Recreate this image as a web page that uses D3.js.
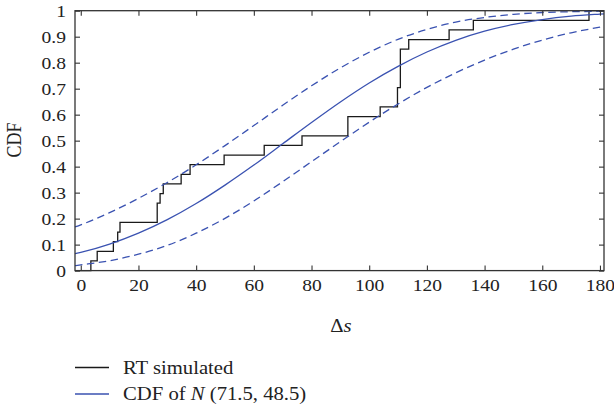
<!DOCTYPE html>
<html>
<head>
<meta charset="utf-8">
<script src="https://cdn.jsdelivr.net/npm/d3@7"></script>
<style>
  body { margin: 0; background: #fff; }
  text { font-family: "Liberation Serif", "DejaVu Serif", serif; fill: #222; }
</style>
</head>
<body>
<svg id="chart" width="614" height="409"></svg>
<script>
// simulated samples (27 values), read off the steps
const samples = [3.5, 5.7, 11.3, 12.8, 13.6, 26.5, 26.5, 27.5, 28.6, 34.8, 37.9, 49.7, 63.6, 76.7,
  92.6, 92.6, 103.8, 109.8, 109.8, 110.8, 110.8, 110.8, 110.8, 113.7, 127.7, 136.1, 176.2]

// curves, read at these x positions
const curveX = [-2, 0, 10, 20, 30, 40, 50, 60, 70, 80, 90, 100, 110, 120, 130, 140, 150, 160, 170, 180, 181.4]
const cdfMid = [0.065, 0.070, 0.102, 0.144, 0.196, 0.258, 0.329, 0.406, 0.488, 0.570, 0.649, 0.722, 0.786,
  0.841, 0.886, 0.921, 0.947, 0.966, 0.979, 0.987, 0.988]
const cdfUpper = [0.168, 0.176, 0.223, 0.278, 0.339, 0.407, 0.481, 0.558, 0.636, 0.711, 0.780, 0.840, 0.890,
  0.928, 0.956, 0.974, 0.986, 0.993, 0.996, 0.998, 0.999]
const cdfLower = [0.019, 0.022, 0.038, 0.063, 0.097, 0.144, 0.201, 0.268, 0.342, 0.419, 0.496, 0.571, 0.641,
  0.705, 0.761, 0.810, 0.852, 0.887, 0.915, 0.937, 0.940]

const xTicks = [0, 20, 40, 60, 80, 100, 120, 140, 160, 180]
const yTicks = [0, 0.1, 0.2, 0.3, 0.4, 0.5, 0.6, 0.7, 0.8, 0.9, 1]
const legendLabels = ["RT simulated", "CDF of"]

const blue = "#3a52b1"
const stretch = 1.15 // the original's type is a bit wider than Liberation Serif
const frame = {left: 75, right: 604, top: 10.7, bottom: 270.6}

const x = d3.scaleLinear().domain([-2, 181.4]).range([frame.left, frame.right])
const y = d3.scaleLinear().domain([0, 1]).range([frame.bottom, frame.top])

const svg = d3.select("#chart")

// empirical CDF points
const sorted = samples.slice().sort((a, b) => a - b)
const ecdf = [[-2, 0]]
sorted.forEach((v, i) => ecdf.push([v, (i + 1) / sorted.length]))
ecdf.push([181.4, 1])

const plot = svg.append("g")

plot.append("path")
    .datum(ecdf)
    .attr("fill", "none")
    .attr("stroke", "#1a1a1a")
    .attr("stroke-width", 1.3)
    .attr("d", d3.line().x(d => x(d[0])).y(d => y(d[1])).curve(d3.curveStepAfter))

const smooth = d3.line().x((d, i) => x(curveX[i])).y(d => y(d)).curve(d3.curveMonotoneX)

plot.append("path")
    .datum(cdfMid)
    .attr("fill", "none")
    .attr("stroke", blue)
    .attr("stroke-width", 1.3)
    .attr("d", smooth)

plot.selectAll(".band")
    .data([cdfUpper, cdfLower])
    .join("path")
    .attr("class", "band")
    .attr("fill", "none")
    .attr("stroke", blue)
    .attr("stroke-width", 1.3)
    .attr("stroke-dasharray", "7.5,4.5")
    .attr("d", smooth)

// frame with inward ticks on all sides
const axes = svg.append("g")
const xAxis = axes.append("g").attr("transform", `translate(0,${frame.bottom})`)
    .call(d3.axisBottom(x).tickValues(xTicks).tickSize(-5).tickPadding(8).tickFormat(d3.format("d")))
axes.append("g").attr("transform", `translate(0,${frame.top})`)
    .call(d3.axisTop(x).tickValues(xTicks).tickSize(-5).tickFormat(""))
const yAxis = axes.append("g").attr("transform", `translate(${frame.left},0)`)
    .call(d3.axisLeft(y).tickValues(yTicks).tickSize(-5).tickPadding(9).tickFormat(d => d))
axes.append("g").attr("transform", `translate(${frame.right},0)`)
    .call(d3.axisRight(y).tickValues(yTicks).tickSize(-5).tickFormat(""))

axes.selectAll(".domain").remove()
axes.selectAll(".tick line").attr("stroke", "#333").attr("stroke-width", 1.1)
axes.selectAll(".tick text").attr("font-size", 17).attr("fill", "#222")
    .style("font-family", '"Liberation Serif", "DejaVu Serif", serif')
    .attr("transform", `scale(${stretch},1)`)
yAxis.selectAll(".tick text").attr("x", -9 / stretch)

axes.append("rect")
    .attr("x", frame.left).attr("y", frame.top)
    .attr("width", frame.right - frame.left).attr("height", frame.bottom - frame.top)
    .attr("fill", "none").attr("stroke", "#333").attr("stroke-width", 1.3)

// axis titles
const xt = svg.append("g").attr("transform", `translate(341,332) scale(${stretch},1)`)
    .append("text").attr("text-anchor", "middle").attr("font-size", 18)
xt.append("tspan").text("Δ")
xt.append("tspan").attr("font-style", "italic").text("s")

svg.append("g").attr("transform", `translate(21,140) rotate(-90) scale(1,${stretch})`)
    .append("text").attr("text-anchor", "middle").attr("font-size", 18)
    .text("CDF")

// legend
const legend = svg.append("g")
const rows = [{color: "#1a1a1a", y: 367.5}, {color: blue, y: 394}]
legend.selectAll("line")
    .data(rows)
    .join("line")
    .attr("x1", 75).attr("x2", 109)
    .attr("y1", d => d.y).attr("y2", d => d.y)
    .attr("stroke", d => d.color).attr("stroke-width", 1.3)

legend.append("g").attr("transform", `translate(123,373.5) scale(${stretch},1)`)
    .append("text").attr("font-size", 18).text(legendLabels[0])
const lt = legend.append("g").attr("transform", `translate(123,400) scale(${stretch},1)`)
    .append("text").attr("font-size", 18)
lt.append("tspan").text(legendLabels[1] + " ")
lt.append("tspan").attr("font-style", "italic").text("N")
lt.append("tspan").text(" (71.5, 48.5)")
</script>
</body>
</html>
